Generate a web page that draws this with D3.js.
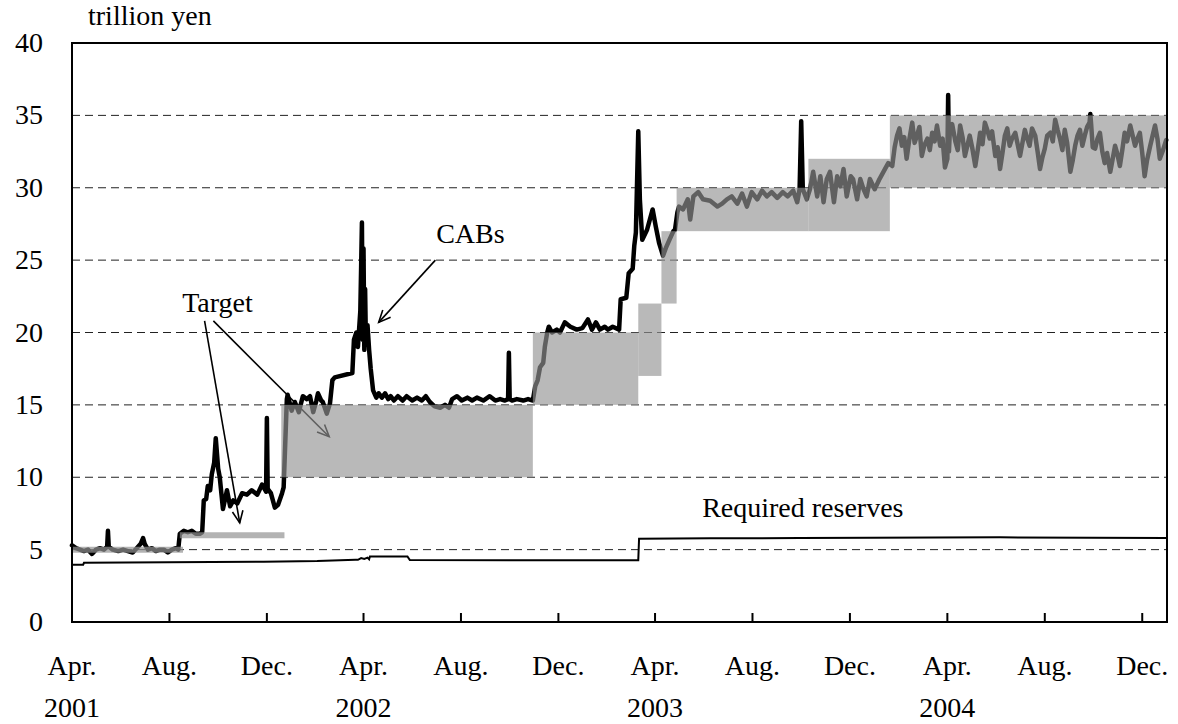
<!DOCTYPE html>
<html>
<head>
<meta charset="utf-8">
<script src="https://cdn.jsdelivr.net/npm/d3@7"></script>
<style>
  body { margin: 0; background: #fff; }
  text { font-family: "Liberation Serif", "Times New Roman", serif; font-size: 28px; fill: #000; }
</style>
</head>
<body>
<div id="chart"></div>
<script>
/* current account balances vs. target, trillion yen */

// CABs: [days since 1 Apr 2001, value]
const cabs = [
  [0,5.3],[5,5.1],[10,5.0],[15,4.9],[20,5.0],[25,4.7],[30,5.0],[35,5.1],[40,5.0],[44,5.2],[45,6.3],[46,5.2],
  [51,5.0],[58,4.9],[64,5.0],[70,4.9],[76,4.8],[81,5.1],[86,5.4],[89,5.8],[91,5.4],[95,5.0],[100,5.1],
  [105,4.9],[110,5.0],[115,5.0],[120,4.8],[125,5.0],[130,5.1],[133,5.0],[135,6.1],[140,6.3],[145,6.2],
  [150,6.3],[155,6.1],[160,6.1],[163,6.2],[165,8.4],[168,8.5],[170,9.4],[173,9.1],[175,10.2],[178,11.0],
  [180,12.7],[183,10.6],[185,10.0],[189,7.8],[194,9.1],[198,8.0],[202,8.4],[207,8.2],[213,8.9],[219,8.8],
  [225,9.1],[232,8.8],[238,9.5],[242,9.1],[243,9.0],[244,14.1],[245,9.2],[249,8.9],[254,7.9],[258,8.1],
  [263,8.9],[265,9.3],[269,15.4],[270,15.7],
  [275,14.6],[279,15.2],[284,14.5],[289,15.6],[294,15.4],[298,15.6],[302,14.5],[306,15.3],[308,15.8],
  [312,15.3],[314,15.2],[319,14.4],[323,15.1],[326,16.7],[329,16.9],[351,17.2],[353,19.5],[356,20.0],
  [358,19.0],[361,21.5],[362,24.5],[363,27.6],[364,19.5],[365,25.8],[366,18.8],[367,23.0],[368,19.2],
  [370,20.5],[372,18.8],[374,17.5],[377,16.0],[381,15.5],[384,15.8],[388,15.5],[392,15.8],[396,15.4],
  [399,15.6],[403,15.3],[408,15.6],[414,15.3],[419,15.6],[426,15.3],[432,15.5],[438,15.3],[443,15.6],
  [448,15.2],[454,14.9],[461,14.8],[467,15.0],[472,14.8],[476,15.4],[482,15.6],[488,15.3],[495,15.5],
  [501,15.3],[507,15.5],[515,15.3],[523,15.6],[530,15.3],[536,15.4],[542,15.3],[546,15.4],[547,18.6],
  [548,15.4],[551,15.3],[557,15.4],[565,15.3],[571,15.4],[577,15.3],
  [580,16.3],[583,16.7],[586,17.6],[590,17.9],[592,19.0],[595,20.0],[597,20.4],[601,20.0],[607,20.2],
  [611,20.0],[617,20.7],[624,20.4],[632,20.2],[639,20.3],[646,20.9],[651,20.2],[656,20.7],[661,20.2],
  [667,20.4],[671,20.2],[677,20.4],[685,20.2],[687,22.3],[694,22.4],[697,24.1],[702,24.4],[704,26.0],
  [706,26.9],[709,33.9],[711,29.2],[714,26.4],[720,27.1],[727,28.5],[731,27.3],[735,26.2],[740,25.3],
  [744,25.9],[748,26.4],[753,27.0],[755,27.1],[758,28.3],[760,28.7],[765,28.5],[771,29.2],[774,27.8],
  [778,29.4],[784,29.7],[790,29.2],[799,29.1],[808,28.7],[814,28.9],[820,29.2],[826,29.4],[833,28.9],
  [839,29.6],[845,28.7],[851,29.7],[858,29.2],[864,29.8],[870,29.4],[876,29.7],[883,29.3],[890,29.7],
  [896,29.4],[903,29.8],[908,29.0],[911,29.9],[913,34.6],[915,29.9],[920,29.2],
  [924,29.9],[928,31.1],[933,29.4],[937,30.8],[941,29.0],[945,30.6],[949,31.1],[954,29.0],[958,30.8],
  [962,30.1],[966,31.3],[970,29.4],[975,30.8],[978,30.6],[983,29.2],[987,30.6],[991,29.9],[995,29.4],
  [999,30.6],[1005,29.9],[1011,30.6],[1018,31.3],[1022,31.7],[1027,31.5],
  [1030,32.8],[1033,33.6],[1036,34.1],[1039,32.9],[1042,33.5],[1045,32.0],[1048,33.2],[1052,34.5],
  [1055,33.1],[1058,33.6],[1061,34.2],[1064,32.2],[1067,32.9],[1071,33.4],[1074,32.6],[1077,33.8],
  [1080,33.2],[1083,34.3],[1085,33.6],[1087,32.9],[1090,33.4],[1093,31.4],[1096,32.0],[1097,36.4],
  [1098,32.5],[1099,33.8],[1102,34.4],[1106,33.2],[1109,32.6],[1112,34.3],[1115,33.5],[1118,32.2],
  [1121,32.9],[1124,33.6],[1127,32.8],[1131,31.5],[1134,32.6],[1137,33.8],[1140,33.0],[1143,34.5],
  [1146,34.0],[1149,33.4],[1152,33.9],[1156,32.2],[1159,32.8],[1162,31.3],[1165,32.4],[1168,33.6],
  [1171,34.1],[1174,32.9],[1177,33.4],[1181,33.8],[1184,33.0],[1187,32.2],[1190,33.1],[1193,34.0],
  [1196,33.4],[1199,32.9],[1202,34.1],[1206,33.6],[1209,32.5],[1212,31.3],[1215,32.1],[1218,32.7],
  [1221,33.6],[1225,33.8],[1228,33.2],[1231,34.7],[1234,34.0],[1237,33.4],[1240,32.6],[1243,34.0],
  [1246,33.1],[1250,31.1],[1253,31.9],[1256,32.9],[1259,33.6],[1262,34.0],[1265,32.9],[1268,33.6],
  [1271,34.2],[1274,34.5],[1275,35.1],[1276,34.4],[1278,32.8],[1281,32.7],[1284,33.4],[1287,33.8],
  [1290,32.5],[1293,31.7],[1296,32.4],[1300,31.1],[1303,32.0],[1306,32.9],[1309,32.3],[1312,31.5],
  [1315,32.6],[1318,33.8],[1321,33.2],[1325,34.3],[1328,33.6],[1331,32.9],[1334,33.4],[1337,33.8],
  [1340,32.4],[1343,30.8],[1346,31.9],[1350,32.9],[1353,33.6],[1356,34.3],[1359,33.4],[1362,32.0],
  [1366,32.6],[1370,33.3]
];

// required reserves: [days since 1 Apr 2001, value]
const required = [
  [0,3.96],[14,3.96],[15,4.09],[120,4.12],[240,4.17],[307,4.21],[355,4.3],[358,4.3],[362,4.42],
  [366,4.35],[370,4.45],[372,4.33],[373,4.53],[420,4.53],[423,4.28],[550,4.27],[709,4.27],[710,5.75],
  [800,5.78],[911,5.8],[1000,5.82],[1162,5.85],[1370,5.8]
];

// operating target (range)
const targetStart = ["2001-04-01","2001-08-14","2001-12-19","2002-10-30","2003-03-11","2003-04-09","2003-04-28","2003-10-10","2004-01-20"];
const targetEnd   = ["2001-08-18","2001-12-23","2002-10-30","2003-03-11","2003-04-09","2003-04-28","2003-10-10","2004-01-20","2005-01-01"];
const targetLow   = [5, 6, 10, 15, 17, 22, 27, 27, 30];
const targetHigh  = [5, 6, 15, 20, 22, 27, 30, 32, 35];

const yTicks = [0, 5, 10, 15, 20, 25, 30, 35, 40];
const monthNames = ["Apr.", "Aug.", "Dec."];
const monthIdx = [3, 7, 11];
const years = [2001, 2002, 2003, 2004];

const dayToDate = d => new Date(2001, 3, 1 + d);
const parse = d3.timeParse("%Y-%m-%d");

const width = 1178, height = 724;
const margin = {top: 43, right: 11, bottom: 102, left: 72};

const svg = d3.select("#chart").append("svg")
    .attr("width", width)
    .attr("height", height);

const x = d3.scaleTime()
    .domain([new Date(2001, 3, 1), new Date(2005, 0, 1)])
    .range([margin.left, width - margin.right]);

const y = d3.scaleLinear()
    .domain([0, 40])
    .range([height - margin.bottom, margin.top]);

// dashed grid
svg.append("g").selectAll("line")
    .data(yTicks.filter(v => v > 0 && v < 40))
    .join("line")
    .attr("x1", x.range()[0]).attr("x2", x.range()[1])
    .attr("y1", d => y(d)).attr("y2", d => y(d))
    .attr("stroke", "#222")
    .attr("stroke-width", 1)
    .attr("stroke-dasharray", "8,5");

// required reserves
svg.append("path")
    .datum(required)
    .attr("fill", "none")
    .attr("stroke", "#000")
    .attr("stroke-width", 2)
    .attr("d", d3.line().x(d => x(dayToDate(d[0]))).y(d => y(d[1])));

// CABs
svg.append("path")
    .datum(cabs)
    .attr("fill", "none")
    .attr("stroke", "#000")
    .attr("stroke-width", 4.5)
    .attr("stroke-linejoin", "round")
    .attr("stroke-linecap", "round")
    .attr("d", d3.line().x(d => x(dayToDate(d[0]))).y(d => y(d[1])));

// annotations (anchored in data units)
function arrow(x1, y1, x2, y2) {
    let g = svg.append("g").attr("stroke", "#000").attr("stroke-width", 1.6).attr("fill", "none");
    g.append("line").attr("x1", x1).attr("y1", y1).attr("x2", x2).attr("y2", y2);
    let a = Math.atan2(y2 - y1, x2 - x1), L = 13, s = 0.42;
    g.append("path").attr("d",
        `M${x2 - L * Math.cos(a - s)},${y2 - L * Math.sin(a - s)}L${x2},${y2}L${x2 - L * Math.cos(a + s)},${y2 - L * Math.sin(a + s)}`);
}

arrow(x(dayToDate(455)), y(25.0), x(dayToDate(384)), y(20.7));
svg.append("text").attr("x", x(dayToDate(456))).attr("y", y(26.2)).text("CABs");

arrow(x(dayToDate(166)), y(20.8), x(dayToDate(210)), y(6.85));
arrow(x(dayToDate(177)), y(20.8), x(dayToDate(322)), y(12.8));
svg.append("text").attr("x", x(dayToDate(138))).attr("y", y(21.4)).text("Target");

svg.append("text").attr("x", x(dayToDate(789))).attr("y", y(7.25)).text("Required reserves");

// target bands on top (semi-transparent grey)
const bands = targetStart.map((s, i) => ({s: parse(s), e: parse(targetEnd[i]), lo: targetLow[i], hi: targetHigh[i]}));

svg.append("g").selectAll("rect")
    .data(bands.filter(d => d.hi > d.lo))
    .join("rect")
    .attr("x", d => x(d.s))
    .attr("width", d => x(d.e) - x(d.s))
    .attr("y", d => y(d.hi))
    .attr("height", d => y(d.lo) - y(d.hi))
    .attr("fill", "#939393")
    .attr("fill-opacity", 0.65);

svg.append("g").selectAll("line")
    .data(bands.filter(d => d.hi === d.lo))
    .join("line")
    .attr("x1", d => x(d.s)).attr("x2", d => x(d.e))
    .attr("y1", d => y(d.lo)).attr("y2", d => y(d.lo))
    .attr("stroke", "#939393")
    .attr("stroke-opacity", 0.7)
    .attr("stroke-width", 6);

// frame
svg.append("rect")
    .attr("x", x.range()[0]).attr("y", y(40))
    .attr("width", x.range()[1] - x.range()[0])
    .attr("height", y(0) - y(40))
    .attr("fill", "none")
    .attr("stroke", "#000")
    .attr("stroke-width", 2);

// x ticks (inward) and labels
const tickDates = [];
years.forEach(yr => monthIdx.forEach((m, i) => tickDates.push({date: new Date(yr, m, 1), label: monthNames[i], year: m === 3 ? yr : null})));

svg.append("g").selectAll("line")
    .data(tickDates.filter(d => d.date > x.domain()[0]))
    .join("line")
    .attr("x1", d => x(d.date)).attr("x2", d => x(d.date))
    .attr("y1", y(0)).attr("y2", y(0) - 9)
    .attr("stroke", "#000")
    .attr("stroke-width", 2);

svg.append("g").selectAll("text")
    .data(tickDates)
    .join("text")
    .attr("x", d => x(d.date))
    .attr("y", 675)
    .attr("text-anchor", "middle")
    .text(d => d.label);

svg.append("g").selectAll("text")
    .data(tickDates.filter(d => d.year))
    .join("text")
    .attr("x", d => x(d.date))
    .attr("y", 717)
    .attr("text-anchor", "middle")
    .text(d => d.year);

// y labels
svg.append("g").selectAll("text")
    .data(yTicks)
    .join("text")
    .attr("x", 43)
    .attr("y", d => y(d) + 9)
    .attr("text-anchor", "end")
    .text(d => d);

svg.append("text").attr("x", 88).attr("y", 25).text("trillion yen");
</script>
</body>
</html>
